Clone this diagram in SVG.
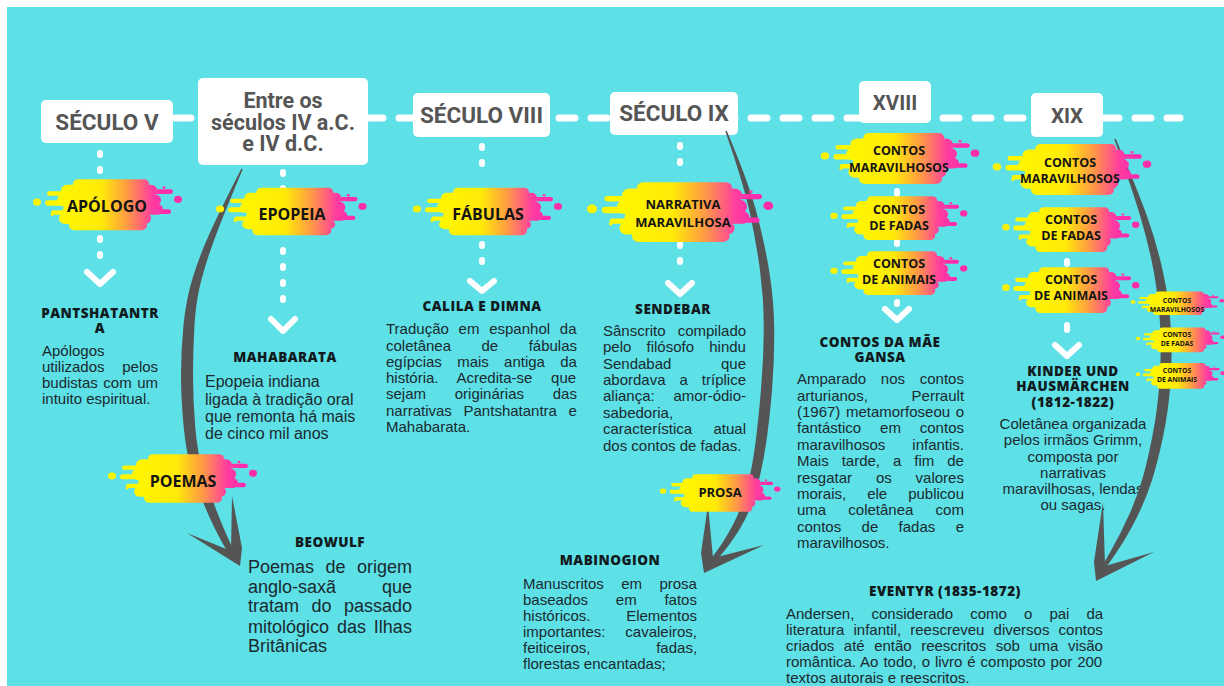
<svg xmlns="http://www.w3.org/2000/svg" width="1224" height="686" viewBox="0 0 1224 686">
  <style>
    .era { font-family: Roboto, "Liberation Sans", sans-serif; font-weight: 700; font-size: 22.5px; fill: #555555; text-anchor: middle; }
    .era-m { font-size: 21.5px; }
    .era-s { font-size: 20.5px; }
    .box { fill: #ffffff; }
    .tag { font-family: "Open Sans", "Liberation Sans", sans-serif; font-weight: 700; fill: #141414; text-anchor: middle; }
    .head { font-family: "Open Sans", "Liberation Sans", sans-serif; font-weight: 800; font-size: 13.5px; letter-spacing: 0.5px; fill: #111a1d; text-anchor: middle; }
    .body { font-family: "Liberation Sans", Arial, sans-serif; font-size: 15px; fill: #1b2a30; }
    .ctr { text-anchor: middle; }
    .timeline { stroke: #ffffff; stroke-width: 7; stroke-dasharray: 16 16; stroke-linecap: round; fill: none; }
    .dots { stroke: #ffffff; stroke-width: 6; stroke-dasharray: 2 14; stroke-linecap: round; fill: none; }
    .dot { stroke: #ffffff; stroke-width: 6; stroke-linecap: round; fill: none; }
    .chev { stroke: #ffffff; stroke-width: 6; stroke-linecap: round; stroke-linejoin: round; fill: none; }
    .arrow { fill: #555555; }
  </style>
  <defs>
    <linearGradient id="splashGrad" gradientUnits="userSpaceOnUse" x1="28" y1="0" x2="135" y2="0">
      <stop offset="0" stop-color="#FFF600"/>
      <stop offset="0.38" stop-color="#FFEA08"/>
      <stop offset="0.62" stop-color="#FF9A45"/>
      <stop offset="0.85" stop-color="#FF3DA0"/>
      <stop offset="1" stop-color="#FF2AAE"/>
    </linearGradient>
    <!-- paint-splash label background, drawn in a 150 x 60 box -->
    <g id="splash">
      <g fill="url(#splashGrad)">
        <rect x="40" y="2" width="76" height="10" rx="5"/>
        <rect x="28" y="8" width="96" height="12" rx="6"/>
        <rect x="14" y="15" width="40" height="5" rx="2.5"/>
        <rect x="100" y="13" width="40" height="5" rx="2.5"/>
        <rect x="24" y="18" width="104" height="14" rx="7"/>
        <rect x="12" y="25" width="40" height="6" rx="3"/>
        <rect x="30" y="29" width="100" height="12" rx="6"/>
        <rect x="108" y="35" width="30" height="5" rx="2.5"/>
        <rect x="18" y="36" width="50" height="5" rx="2.5"/>
        <rect x="26" y="39" width="92" height="12" rx="6"/>
        <rect x="36" y="47" width="78" height="11" rx="5.5"/>
      </g>
      <circle cx="4" cy="27" r="4" fill="#FFF200"/>
      <circle cx="145" cy="24" r="4" fill="#FF2DA8"/>
      <circle cx="131" cy="11" r="1.5" fill="#FF3DA0"/>
      <circle cx="19" cy="41" r="1.5" fill="#FFF200"/>
    </g>
  </defs>

  <!-- background -->
  <rect x="0" y="0" width="1224" height="686" fill="#ffffff"/>
  <rect x="7" y="7" width="1217" height="679" fill="#5DE0E6"/>

  <!-- connectors: timeline, dotted drops, chevrons -->
  <g id="connectors">
    <line class="timeline" x1="175" y1="118" x2="1180" y2="118"/>
    <path class="dots" d="M100,153 V172 M100,238 V262"/>
    <path class="chev" d="M87,272 L100,284 L113,272"/>
    <path class="dots" d="M283,172 V190 M283,250 V302"/>
    <path class="chev" d="M271,319 L283,331 L295,319"/>
    <path class="dots" d="M482,146 V178 M482,244 V276"/>
    <path class="chev" d="M470,281 L482,291 L494,281"/>
    <path class="dots" d="M680,145 V177 M680,244 V276"/>
    <path class="chev" d="M668,283 L680,294 L692,283"/>
    <path class="dot" d="M897,191 V194 M897,241 V244 M897,302 V304"/>
    <path class="chev" d="M885,309 L897,320 L909,309"/>
    <path class="dot" d="M1067,261 V264 M1067,325 V330"/>
    <path class="chev" d="M1055,345 L1067,356 L1079,345"/>
  </g>

  <!-- era boxes -->
  <g id="era-v">
    <rect class="box" x="41" y="100" width="132" height="43" rx="5"/>
    <text class="era" x="107" y="129.5">SÉCULO V</text>
  </g>
  <g id="era-entre">
    <rect class="box" x="198" y="78" width="170" height="87" rx="5"/>
    <text class="era era-m" x="283" y="108">Entre os<tspan x="283" dy="21.5">séculos IV a.C.</tspan><tspan x="283" dy="21.5">e IV d.C.</tspan></text>
  </g>
  <g id="era-viii">
    <rect class="box" x="413" y="93" width="137" height="44" rx="5"/>
    <text class="era" x="481.5" y="123">SÉCULO VIII</text>
  </g>
  <g id="era-ix">
    <rect class="box" x="610" y="92" width="128" height="43" rx="5"/>
    <text class="era" x="674" y="121">SÉCULO IX</text>
  </g>
  <g id="era-xviii">
    <rect class="box" x="859" y="81" width="72" height="42" rx="5"/>
    <text class="era era-s" x="895" y="109.5">XVIII</text>
  </g>
  <g id="era-xix">
    <rect class="box" x="1031" y="93" width="72" height="44" rx="5"/>
    <text class="era era-s" x="1067" y="123">XIX</text>
  </g>

  <!-- work descriptions -->
  <g id="work-pantshatantra">
    <text class="head" x="100" y="318">PANTSHATANTR<tspan x="100" dy="15">A</tspan></text>
    <g class="body">
      <text x="42" y="356">Apólogos</text>
      <text x="42" y="372" word-spacing="13.5">utilizados pelos</text>
      <text x="42" y="388" word-spacing="1.3">budistas com um</text>
      <text x="42" y="404">intuito espiritual.</text>
    </g>
  </g>
  <g id="work-mahabarata">
    <text class="head" x="285" y="362">MAHABARATA</text>
    <g class="body" style="font-size:16px">
      <text x="205" y="387">Epopeia indiana</text>
      <text x="205" y="404.5">ligada à tradição oral</text>
      <text x="205" y="421.5">que remonta há mais</text>
      <text x="205" y="439">de cinco mil anos</text>
    </g>
  </g>
  <g id="work-calila">
    <text class="head" x="482" y="311">CALILA E DIMNA</text>
    <g class="body">
      <text x="386" y="334.3" word-spacing="5.6">Tradução em espanhol da</text>
      <text x="386" y="350.5" word-spacing="26.3">coletânea de fábulas</text>
      <text x="386" y="366.8" word-spacing="11.1">egípcias mais antiga da</text>
      <text x="386" y="383" word-spacing="14.6">história. Acredita-se que</text>
      <text x="386" y="399.2" word-spacing="24.6">sejam originárias das</text>
      <text x="386" y="415.5" word-spacing="7.5">narrativas Pantshatantra e</text>
      <text x="386" y="431.7">Mahabarata.</text>
    </g>
  </g>
  <g id="work-sendebar">
    <text class="head" x="673" y="314">SENDEBAR</text>
    <g class="body">
      <text x="603" y="335.7" word-spacing="8">Sânscrito compilado</text>
      <text x="603" y="352.1" word-spacing="11">pelo filósofo hindu</text>
      <text x="603" y="368.6" word-spacing="45.4">Sendabad que</text>
      <text x="603" y="385" word-spacing="9.8">abordava a tríplice</text>
      <text x="603" y="401.4" word-spacing="14.6">aliança: amor-ódio-</text>
      <text x="603" y="417.9">sabedoria,</text>
      <text x="603" y="434.3" word-spacing="17.1">característica atual</text>
      <text x="603" y="450.7">dos contos de fadas.</text>
    </g>
  </g>
  <g id="work-beowulf">
    <text class="head" x="330" y="547">BEOWULF</text>
    <g class="body" style="font-size:18px">
      <text x="248" y="573.3" word-spacing="6.5">Poemas de origem</text>
      <text x="248" y="592.7" word-spacing="40.9">anglo-saxã que</text>
      <text x="248" y="612.3" word-spacing="7.5">tratam do passado</text>
      <text x="248" y="632.5" word-spacing="2.9">mitológico das Ilhas</text>
      <text x="248" y="652.3">Britânicas</text>
    </g>
  </g>
  <g id="work-mabinogion">
    <text class="head" x="610" y="565">MABINOGION</text>
    <g class="body">
      <text x="523" y="589.3" word-spacing="13.2">Manuscritos em prosa</text>
      <text x="523" y="605.3" word-spacing="23.6">baseados em fatos</text>
      <text x="523" y="621.3" word-spacing="31.5">históricos. Elementos</text>
      <text x="523" y="637.3" word-spacing="15.6">importantes: cavaleiros,</text>
      <text x="523" y="653.3" word-spacing="61.5">feiticeiros, fadas,</text>
      <text x="523" y="669.3">florestas encantadas;</text>
    </g>
  </g>
  <g id="work-mae-gansa">
    <text class="head" x="880" y="347">CONTOS DA MÃE<tspan x="880" dy="15">GANSA</tspan></text>
    <g class="body">
      <text x="797" y="384.3" word-spacing="10.5">Amparado nos contos</text>
      <text x="797" y="400.7" word-spacing="39.5">arturianos, Perrault</text>
      <text x="797" y="417" word-spacing="1.4">(1967) metamorfoseou o</text>
      <text x="797" y="433.4" word-spacing="14.7">fantástico em contos</text>
      <text x="797" y="449.8" word-spacing="22.8">maravilhosos infantis.</text>
      <text x="797" y="466.1" word-spacing="8.8">Mais tarde, a fim de</text>
      <text x="797" y="482.5" word-spacing="19.7">resgatar os valores</text>
      <text x="797" y="498.9" word-spacing="16.8">morais, ele publicou</text>
      <text x="797" y="515.3" word-spacing="18">uma coletânea com</text>
      <text x="797" y="531.6" word-spacing="16.2">contos de fadas e</text>
      <text x="797" y="548">maravilhosos.</text>
    </g>
  </g>
  <g id="work-kinder">
    <text class="head" x="1073" y="376">KINDER UND<tspan x="1073" dy="15">HAUSMÄRCHEN</tspan><tspan x="1073" dy="15.5">(1812-1822)</tspan></text>
    <g class="body ctr">
      <text x="1073" y="429.3">Coletânea organizada</text>
      <text x="1073" y="445.4">pelos irmãos Grimm,</text>
      <text x="1073" y="461.5">composta por</text>
      <text x="1073" y="477.6">narrativas</text>
      <text x="1073" y="493.7">maravilhosas, lendas</text>
      <text x="1073" y="509.8">ou sagas.</text>
    </g>
  </g>
  <g id="work-eventyr">
    <text class="head" x="945" y="595.5">EVENTYR (1835-1872)</text>
    <g class="body">
      <text x="786" y="619" word-spacing="12.9">Andersen, considerado como o pai da</text>
      <text x="786" y="635.1" word-spacing="5">literatura infantil, reescreveu diversos contos</text>
      <text x="786" y="651.2" word-spacing="5.3">criados até então reescritos sob uma visão</text>
      <text x="786" y="667.3" word-spacing="0.75">romântica. Ao todo, o livro é composto por 200</text>
      <text x="786" y="683.4">textos autorais e reescritos.</text>
    </g>
  </g>

  <!-- curved tapered arrows -->
  <g id="arrows" class="arrow">
    <path d="M242.7,169.3 Q224.3,213 215.55,236.15 Q206.8,259.3 201.35,280.1 Q195.9,300.9 194.45,325.55 Q193,350.2 193,374.95 Q193,399.7 195.2,426.85 Q197.4,454 203.55,473.65 Q209.7,493.3 217.15,512.3 Q224.6,531.3 231.4,545.55 L238.2,559.8 L237,563 L233.8,562.2 L225.6,548.45 Q217.4,534.7 208.85,515.7 Q200.3,496.7 193.45,476.35 Q186.6,456 183.8,428.15 Q181,400.3 181,375.05 Q181,349.8 183.55,324.45 Q186.1,299.1 192.65,277.9 Q199.2,256.7 209.45,233.85 Q219.7,211 241.3,168.7 Z"/>
    <path d="M240,566 L187,533 L231,551 L232,496 L242,548 Z"/>

    <path d="M726.7,130.7 Q747.4,179.3 755.65,209.25 Q763.9,239.2 768.95,269.4 Q774,299.6 774.25,329.9 Q774.5,360.2 772,390.4 Q769.5,420.6 765.7,445.8 Q761.9,471 755.55,492.35 Q749.2,513.7 739.55,529.35 Q729.9,545 720.75,555.15 L711.6,565.3 L707,568 L708.4,562.7 L716.25,551.85 Q724.1,541 732.45,525.65 Q740.8,510.3 746.45,489.65 Q752.1,469 755.3,444.2 Q758.5,419.4 761,389.6 Q763.5,359.8 763.75,330.1 Q764,300.4 760.05,270.6 Q756.1,240.8 749.35,210.75 Q742.6,180.7 725.3,131.3 Z"/>
    <path d="M704,573 L764,545 L713,558 L708,505 L701,553 Z"/>

    <path d="M1115.7,138.7 Q1137.4,189.2 1147.15,216.6 Q1156.9,244 1162.95,271.7 Q1169,299.4 1170.75,327.2 Q1172.5,355 1170.5,382.85 Q1168.5,410.7 1163.2,435.95 Q1157.9,461.2 1152.05,479.9 Q1146.2,498.6 1136.65,517.65 Q1127.1,536.7 1116.4,552.4 L1105.7,568.1 L1100,572 L1102.3,565.9 L1111.6,549.6 Q1120.9,533.3 1129.35,514.35 Q1137.8,495.4 1142.95,477.1 Q1148.1,458.8 1152.8,434.05 Q1157.5,409.3 1159.5,382.15 Q1161.5,355 1160.25,327.8 Q1159,300.6 1154.05,273.3 Q1149.1,246 1140.9,218.4 Q1132.7,190.8 1114.3,139.3 Z"/>
    <path d="M1096,581 L1154,552 L1105,566 L1103,502 L1094,562 Z"/>
  </g>

  <!-- genre labels -->
  <g id="tag-apologo">
    <use href="#splash" transform="translate(33,177.5) scale(1,0.91)"/>
    <text class="tag" x="107" y="212" font-size="16">APÓLOGO</text>
  </g>
  <g id="tag-epopeia">
    <use href="#splash" transform="translate(216,186) scale(1.01,0.85)"/>
    <text class="tag" x="292" y="220" font-size="16">EPOPEIA</text>
  </g>
  <g id="tag-fabulas">
    <use href="#splash" transform="translate(413,186) scale(1,0.85)"/>
    <text class="tag" x="488" y="220" font-size="16">FÁBULAS</text>
  </g>
  <g id="tag-narrativa">
    <use href="#splash" transform="translate(587,180) scale(1.25,1.07)"/>
    <text class="tag" x="683" y="209" font-size="13">NARRATIVA<tspan x="683" dy="18">MARAVILHOSA</tspan></text>
  </g>
  <g id="tag-xviii-maravilhosos">
    <use href="#splash" transform="translate(820.7,131.3) scale(1.064,0.91)"/>
    <text class="tag" x="899" y="155" font-size="12.5">CONTOS<tspan x="899" dy="17">MARAVILHOSOS</tspan></text>
  </g>
  <g id="tag-xviii-fadas">
    <use href="#splash" transform="translate(830.3,194.7) scale(0.92,0.78)"/>
    <text class="tag" x="899" y="214" font-size="12.5">CONTOS<tspan x="899" dy="16">DE FADAS</tspan></text>
  </g>
  <g id="tag-xviii-animais">
    <use href="#splash" transform="translate(830.3,249.7) scale(0.92,0.78)"/>
    <text class="tag" x="899" y="268" font-size="12.5">CONTOS<tspan x="899" dy="16">DE ANIMAIS</tspan></text>
  </g>
  <g id="tag-xix-maravilhosos">
    <use href="#splash" transform="translate(992.7,142.3) scale(1.064,0.91)"/>
    <text class="tag" x="1070" y="167" font-size="12.5">CONTOS<tspan x="1070" dy="16">MARAVILHOSOS</tspan></text>
  </g>
  <g id="tag-xix-fadas">
    <use href="#splash" transform="translate(1002.3,205.6) scale(0.92,0.8)"/>
    <text class="tag" x="1071" y="224" font-size="12.5">CONTOS<tspan x="1071" dy="16">DE FADAS</tspan></text>
  </g>
  <g id="tag-xix-animais">
    <use href="#splash" transform="translate(1002.3,265.5) scale(0.92,0.82)"/>
    <text class="tag" x="1071" y="284" font-size="12.5">CONTOS<tspan x="1071" dy="16">DE ANIMAIS</tspan></text>
  </g>
  <g id="tag-mini-maravilhosos">
    <use href="#splash" transform="translate(1130.5,290.7) scale(0.63,0.42)"/>
    <text class="tag" x="1177" y="303" font-size="6.8">CONTOS<tspan x="1177" dy="9">MARAVILHOSOS</tspan></text>
  </g>
  <g id="tag-mini-fadas">
    <use href="#splash" transform="translate(1135.6,326.7) scale(0.6,0.44)"/>
    <text class="tag" x="1177" y="337" font-size="6.8">CONTOS<tspan x="1177" dy="9">DE FADAS</tspan></text>
  </g>
  <g id="tag-mini-animais">
    <use href="#splash" transform="translate(1135.6,362) scale(0.6,0.46)"/>
    <text class="tag" x="1177" y="373" font-size="6.8">CONTOS<tspan x="1177" dy="9">DE ANIMAIS</tspan></text>
  </g>
  <g id="tag-poemas">
    <use href="#splash" transform="translate(108,452.4) scale(1,0.87)"/>
    <text class="tag" x="183" y="487" font-size="16">POEMAS</text>
  </g>
  <g id="tag-prosa">
    <use href="#splash" transform="translate(659.8,473) scale(0.81,0.67)"/>
    <text class="tag" x="720" y="497" font-size="13">PROSA</text>
  </g>
</svg>
